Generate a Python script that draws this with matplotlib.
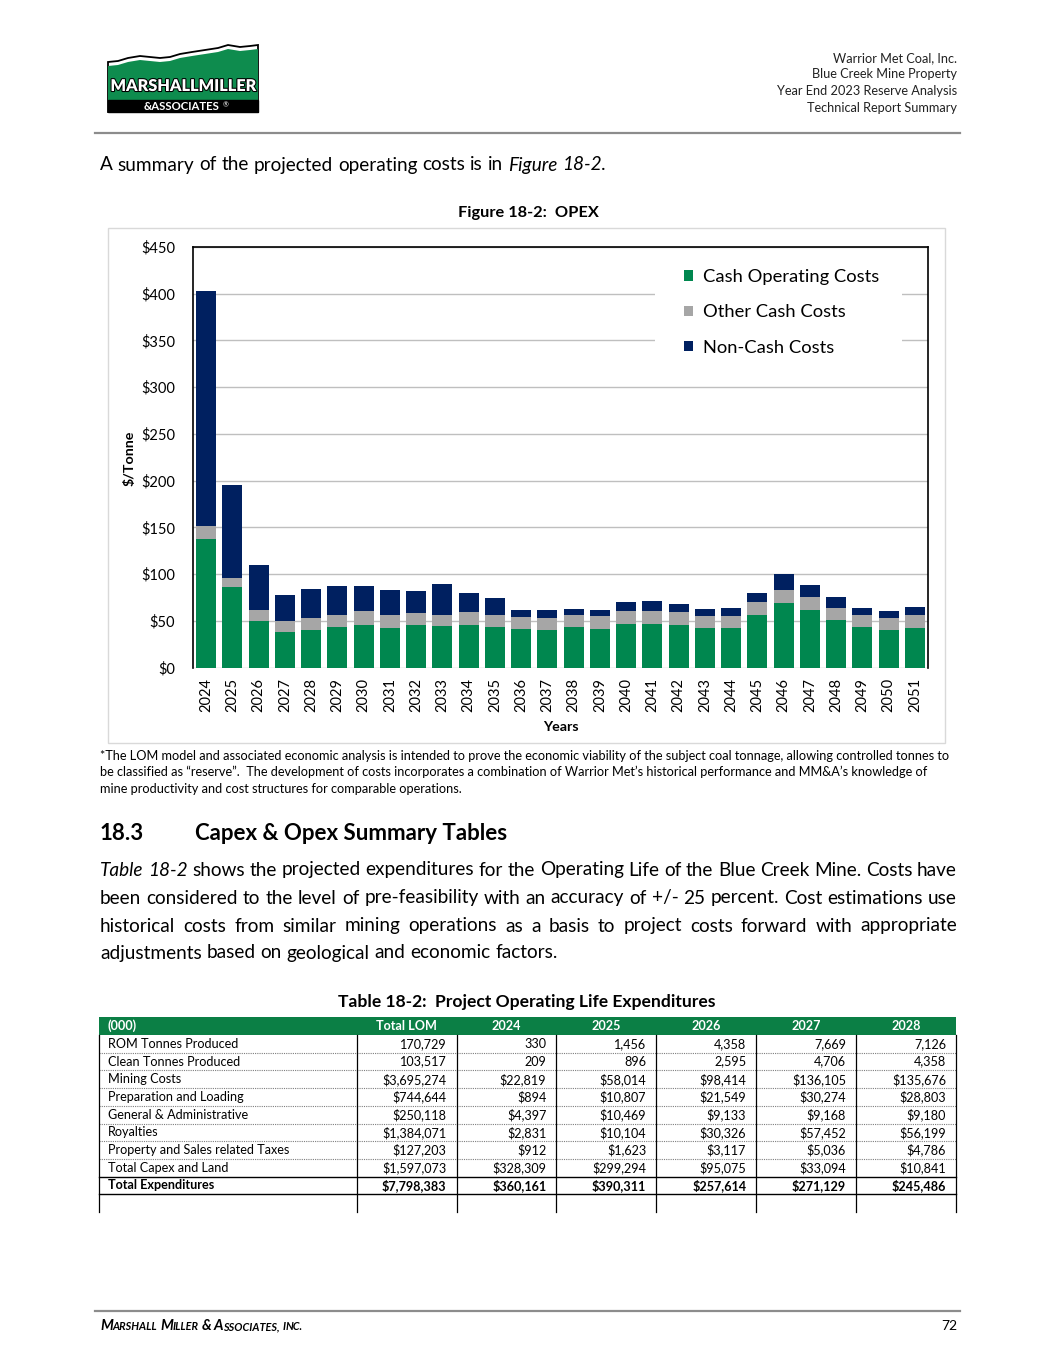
import matplotlib
matplotlib.use("Agg")
import matplotlib.pyplot as plt
from matplotlib.patches import Rectangle, Polygon
import matplotlib.patheffects as pe
import numpy as np

W, H = 1055, 1365
plt.rcParams['font.family'] = ['Lato', 'DejaVu Sans']

# ---- Figure 18-2 OPEX, $/tonne
years = [str(y) for y in range(2024, 2052)]
cash_operating = [137, 86, 50, 38, 40, 43, 46, 42, 45, 44, 46, 43, 41, 40, 43, 41, 47, 47, 46, 42,
                  42, 56, 69, 61, 51, 43, 40, 42]
other_cash = [14, 10, 12, 12, 13, 13, 14, 14, 13, 12, 13, 13, 13, 13, 13, 14, 13, 13, 13, 13,
              13, 14, 14, 14, 13, 13, 13, 14]
non_cash = [252, 99, 48, 28, 31, 31, 27, 27, 24, 33, 21, 18, 8, 8, 7, 7, 10, 11, 9, 8,
            9, 10, 17, 13, 11, 8, 7, 9]
y_ticks = [0, 50, 100, 150, 200, 250, 300, 350, 400, 450]

# ---- Table 18-2 (000)
table_cols = ["Total LOM", "2024", "2025", "2026", "2027", "2028"]
row_names = ["ROM Tonnes Produced", "Clean Tonnes Produced", "Mining Costs", "Preparation and Loading",
             "General & Administrative", "Royalties", "Property and Sales related Taxes",
             "Total Capex and Land", "Total Expenditures"]
rom_tonnes = [170729, 330, 1456, 4358, 7669, 7126]
clean_tonnes = [103517, 209, 896, 2595, 4706, 4358]
mining = [3695274, 22819, 58014, 98414, 136105, 135676]
prep_loading = [744644, 894, 10807, 21549, 30274, 28803]
g_and_a = [250118, 4397, 10469, 9133, 9168, 9180]
royalties = [1384071, 2831, 10104, 30326, 57452, 56199]
taxes = [127203, 912, 1623, 3117, 5036, 4786]
capex_land = [1597073, 328309, 299294, 95075, 33094, 10841]
total_exp = [7798383, 360161, 390311, 257614, 271129, 245486]
table_rows = [rom_tonnes, clean_tonnes, mining, prep_loading, g_and_a, royalties, taxes, capex_land, total_exp]
is_money = [False, False, True, True, True, True, True, True, True]

GREEN, GREY, NAVY = '#00874F', '#A6A6A6', '#002060'

fig = plt.figure(figsize=(W / 100, H / 100), dpi=100)
pg = fig.add_axes([0, 0, 1, 1])
pg.set_xlim(0, W); pg.set_ylim(H, 0); pg.axis('off')
R = fig.canvas.get_renderer()


def width(s, size, **kw):
    t = pg.text(0, 0, s, fontsize=size, **kw)
    w = t.get_window_extent(renderer=R).width
    t.remove()
    return w


def fit(s, w, **kw):
    return 10 * w / width(s, 10, **kw)


def words(x, y, parts, size, x1=None, color='black'):
    ws = [width(p, size, **k) for p, k in parts]
    gap = width('x x', size) - width('xx', size)
    if x1 is not None:
        gap = (x1 - x - sum(ws)) / (len(parts) - 1)
    for (p, k), w in zip(parts, ws):
        pg.text(x, y, p, fontsize=size, va='center', ha='left', color=color, **k)
        x += w + gap


def plain(s, **kw):
    return [(w, kw) for w in s.split()]


# ---- header
hs = fit("Technical Report Summary", 150)
for yy, s in zip([58, 74, 91, 108], ["Warrior Met Coal, Inc.", "Blue Creek Mine Property",
                                      "Year End 2023 Reserve Analysis", "Technical Report Summary"]):
    pg.text(957, yy, s, fontsize=hs, ha='right', va='center', color='#222222')
pg.plot([95, 960], [133, 133], color='#8c8c8c', lw=1.6)

# logo
top = [(108, 62), (118, 61), (128, 58), (140, 56), (150, 57), (160, 58), (170, 57), (180, 54),
       (192, 52), (205, 50), (218, 48), (228, 45), (240, 47), (250, 46), (258, 45)]
pg.add_patch(Polygon(top + [(258, 112), (108, 112)], closed=True, fc='white', ec='black', lw=1.3))
pg.add_patch(Polygon([(x, y + 4) for x, y in top] + [(258, 100), (108, 100)], closed=True,
                     fc='#0E8C4E', ec='none'))
pg.add_patch(Rectangle((108, 100), 150, 12, fc='black', ec='black'))
pg.text(183, 86, "MARSHALLMILLER", fontsize=fit("MARSHALLMILLER", 146, weight='heavy'), weight='heavy',
        color='white', ha='center', va='center',
        path_effects=[pe.withStroke(linewidth=1.5, foreground='black')])
pg.text(182, 106, "&ASSOCIATES", fontsize=fit("&ASSOCIATES", 76, weight='bold'), weight='bold',
        color='white', ha='center', va='center')
pg.text(226, 105, "®", fontsize=5, color='white', ha='center', va='center')

# ---- body text
bs = fit("adjustments based on geological and economic factors.", 460)
words(100, 165, plain("A summary of the projected operating costs is in") +
      [("Figure", dict(style='italic')), ("18-2.", dict(style='italic'))], bs)
pg.text(528, 213, "Figure 18-2:  OPEX", fontsize=fit("Figure 18-2:  OPEX", 140, weight='bold'),
        weight='bold', ha='center', va='center')

# ---- chart
pg.add_patch(Rectangle((108, 228), 837, 515, fc='white', ec='#d9d9d9', lw=1))
ax = fig.add_axes([193 / W, 1 - 667.5 / H, (928 - 193) / W, (667.5 - 247) / H])
x = np.arange(len(years))
ax.bar(x, cash_operating, 0.76, color=GREEN, label='Cash Operating Costs', zorder=3)
ax.bar(x, other_cash, 0.76, bottom=cash_operating, color=GREY, label='Other Cash Costs', zorder=3)
ax.bar(x, non_cash, 0.76, bottom=np.add(cash_operating, other_cash), color=NAVY,
       label='Non-Cash Costs', zorder=3)
ax.set_xlim(-0.5, len(years) - 0.5)
ax.set_ylim(0, 450)
ts = fit("2024", 34)
ax.set_yticks(y_ticks)
ax.set_yticklabels([f"${v}" for v in y_ticks])
ax.set_xticks(x)
ax.set_xticklabels(years, rotation=90)
ax.tick_params(axis='y', length=0, labelsize=ts, pad=13)
ax.tick_params(axis='x', length=0, labelsize=ts, pad=7.5)
ax.yaxis.grid(True, color='#bfbfbf', lw=1, zorder=0)
ax.set_axisbelow(True)
for s in ['left', 'top', 'right']:
    ax.spines[s].set_color('black'); ax.spines[s].set_linewidth(1.2)
ax.spines['bottom'].set_visible(False)
ax.add_patch(Rectangle((655, 255), 247, 105, transform=pg.transData, fc='white', ec='none', zorder=1))
ls = fit("Cash Operating Costs", 176)
lpx = ls * 100 / 72
ax.legend(loc='upper left', bbox_to_anchor=(684 / W, 1 - 269 / H), bbox_transform=fig.transFigure,
          frameon=False, fontsize=ls, borderpad=0, borderaxespad=0, handlelength=9 / lpx,
          handleheight=9 / lpx, handletextpad=10 / lpx, labelspacing=1.05)
pg.text(130, 458, "$/Tonne", fontsize=fit("Years", 36, weight='bold'), weight='bold', rotation=90,
        ha='center', va='center')
pg.text(561, 727, "Years", fontsize=fit("Years", 36, weight='bold'), weight='bold', ha='center', va='center')

# ---- footnote
fn = ["*The LOM model and associated economic analysis is intended to prove the economic viability of the subject coal tonnage, allowing controlled tonnes to",
      "be classified as \u201creserve\u201d.  The development of costs incorporates a combination of Warrior Met\u2019s historical performance and MM&A\u2019s knowledge of",
      "mine productivity and cost structures for comparable operations."]
fs = fit(fn[0], 852)
for yy, s in zip([756, 772, 789], fn):
    pg.text(100, yy, s, fontsize=fs, ha='left', va='center')

# ---- section heading + paragraph
hd = fit("Capex & Opex Summary Tables", 312, weight='bold')
pg.text(100, 833, "18.3", fontsize=hd, weight='bold', ha='left', va='center')
pg.text(195, 833, "Capex & Opex Summary Tables", fontsize=hd, weight='bold', ha='left', va='center')
para = ["Table 18-2 shows the projected expenditures for the Operating Life of the Blue Creek Mine.  Costs have",
        "been considered to the level of pre-feasibility with an accuracy of +/- 25 percent.  Cost estimations use",
        "historical costs from similar mining operations as a basis to project costs forward with appropriate",
        "adjustments based on geological and economic factors."]
for i, (yy, s) in enumerate(zip([870, 898, 926, 953], para)):
    parts = plain(s)
    if i == 0:
        parts[0] = (parts[0][0], dict(style='italic')); parts[1] = (parts[1][0], dict(style='italic'))
    words(100, yy, parts, bs, x1=957 if i < 3 else None)

cap = "Table 18-2:  Project Operating Life Expenditures"
pg.text(527, 1002, cap, fontsize=fit(cap, 377, weight='bold'), weight='bold', ha='center', va='center')

# ---- table
cx = [99, 356.6] + [356.6 + 99.9 * k for k in range(1, 7)]
hy0, hy1 = 1017, 1035
ry = [hy1 + 17.7 * k for k in range(len(row_names) + 1)]
y_end = ry[-1] + 18
tsz = fit("Property and Sales related Taxes", 182)
pg.add_patch(Rectangle((cx[0], hy0), cx[-1] - cx[0], hy1 - hy0, fc='#0B7F45', ec='none'))
pg.text(108, (hy0 + hy1) / 2, "(000)", fontsize=tsz, weight='bold', color='white', ha='left', va='center')
for k, c in enumerate(table_cols):
    pg.text((cx[k + 1] + cx[k + 2]) / 2, (hy0 + hy1) / 2, c, fontsize=tsz, weight='bold', color='white',
            ha='center', va='center')
for i, (name, vals) in enumerate(zip(row_names, table_rows)):
    yc = (ry[i] + ry[i + 1]) / 2
    wt = 'bold' if i == len(row_names) - 1 else 'normal'
    pg.text(108, yc, name, fontsize=tsz, weight=wt, ha='left', va='center')
    for k, v in enumerate(vals):
        s = (f"${v:,}" if is_money[i] else f"{v:,}")
        pg.text(cx[k + 2] - 10, yc, s, fontsize=tsz, weight=wt, ha='right', va='center')
for i in range(1, len(row_names) - 1):
    pg.plot([cx[0], cx[-1]], [ry[i], ry[i]], color='#7f7f7f', lw=0.8, ls=(0, (1, 1)))
for i in [len(row_names) - 1, len(row_names)]:
    pg.plot([cx[0], cx[-1]], [ry[i], ry[i]], color='black', lw=1)
for xx in cx:
    pg.plot([xx, xx], [hy1, y_end], color='black', lw=0.9)

# ---- footer
pg.plot([95, 960], [1311, 1311], color='#8c8c8c', lw=1.6)
big, small = 10.5, 7.8
xx = 100
for s, sz in [("M", big), ("ARSHALL", small), (" ", small), ("M", big), ("ILLER", small), (" ", small),
              ("&", big), (" ", small), ("A", big), ("SSOCIATES,", small), (" ", small), ("I", small),
              ("NC.", small)]:
    if s == " ":
        xx += width('x x', sz, weight='bold') - width('xx', sz, weight='bold')
        continue
    pg.text(xx, 1330, s, fontsize=sz, weight='bold', style='italic', ha='left', va='baseline')
    xx += width(s, sz, weight='bold', style='italic')
pg.text(957, 1326, "72", fontsize=10, ha='right', va='center')

fig.savefig("out.png", dpi=100)
